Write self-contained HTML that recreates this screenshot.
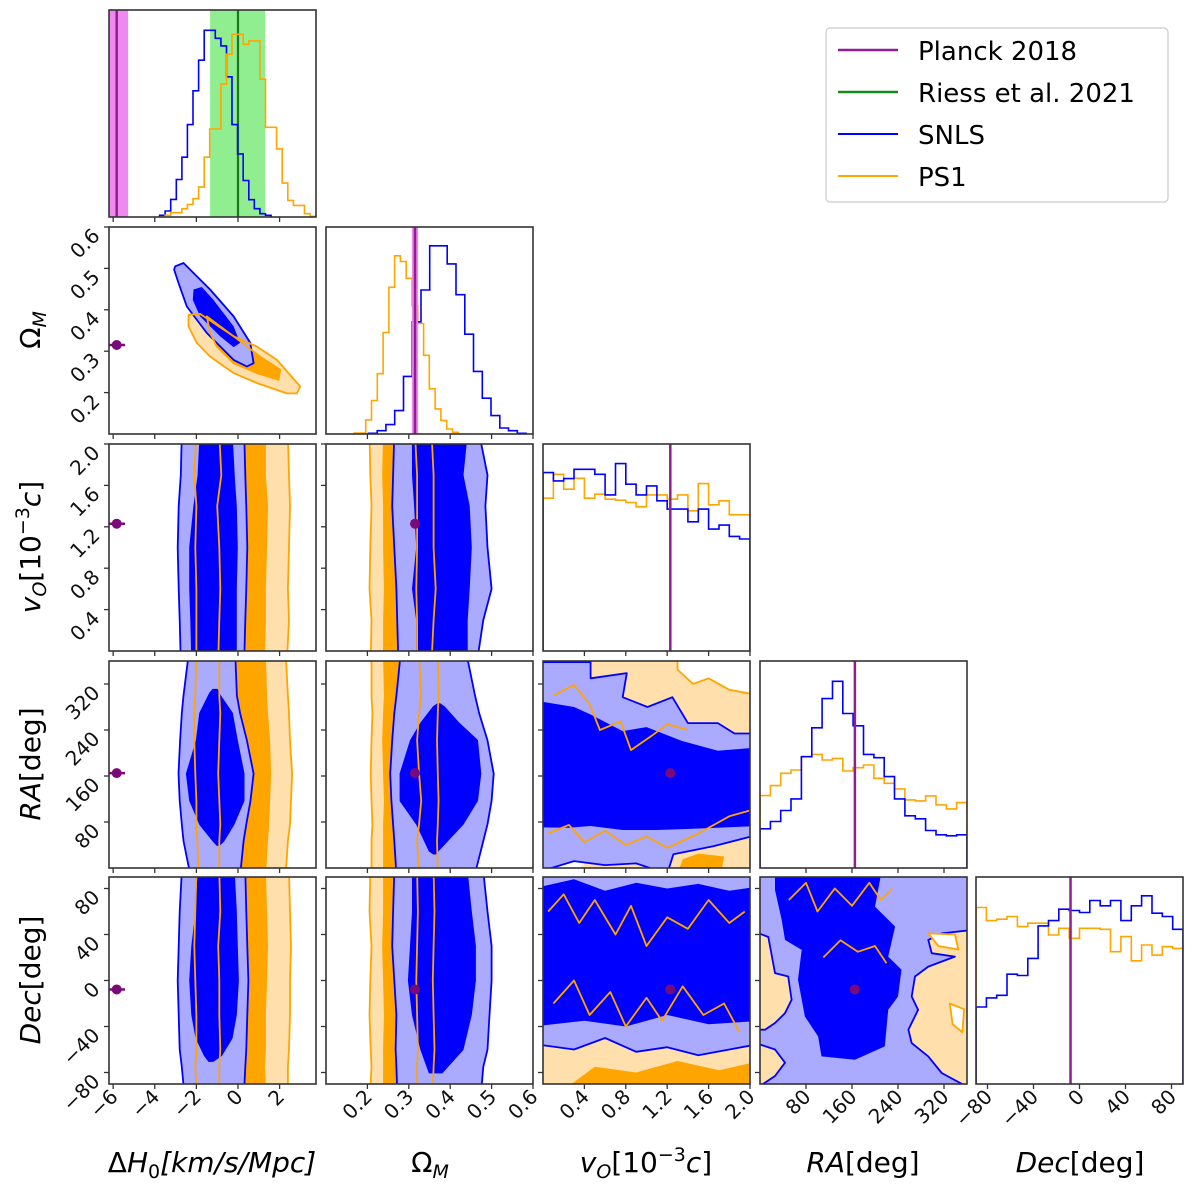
<!DOCTYPE html>
<html><head><meta charset="utf-8"><title>Corner plot</title>
<style>
html,body{margin:0;padding:0;background:#fff;}
svg{display:block;font-family:"DejaVu Sans","Liberation Sans",sans-serif;}
</style></head>
<body>
<svg id="c" width="1200" height="1193" viewBox="0 0 1200 1193" xmlns="http://www.w3.org/2000/svg">
<defs id="defs"></defs>
<g id="legend">
<rect x="826" y="28" width="342" height="174" rx="4" fill="#fff" stroke="#ccc" stroke-width="1.2"/>
<line x1="838" y1="50" x2="898" y2="50" stroke="#8f1f8f" stroke-width="2.5"/>
<text x="918" y="60" font-size="26">Planck 2018</text>
<line x1="838" y1="92" x2="898" y2="92" stroke="#1a8a1a" stroke-width="2.5"/>
<text x="918" y="102" font-size="26">Riess et al. 2021</text>
<line x1="838" y1="134" x2="898" y2="134" stroke="#0000ff" stroke-width="2"/>
<text x="918" y="144" font-size="26">SNLS</text>
<line x1="838" y1="176" x2="898" y2="176" stroke="#ffa500" stroke-width="2"/>
<text x="918" y="186" font-size="26">PS1</text>
</g>
<g font-size="28">
<text x="212" y="1172" text-anchor="middle">Δ<tspan font-style="italic">H</tspan><tspan font-size="19" dy="6">0</tspan><tspan dy="-6" font-style="italic">[km/s/Mpc]</tspan></text>
<text x="430" y="1172" text-anchor="middle">Ω<tspan font-size="19" dy="6" font-style="italic">M</tspan></text>
<text x="646" y="1172" text-anchor="middle"><tspan font-style="italic">v</tspan><tspan font-size="19" dy="6" font-style="italic">O</tspan><tspan dy="-6">[10</tspan><tspan font-size="19" dy="-11">−3</tspan><tspan dy="11" font-style="italic">c</tspan>]</text>
<text x="863" y="1172" text-anchor="middle"><tspan font-style="italic">RA</tspan>[deg]</text>
<text x="1080" y="1172" text-anchor="middle"><tspan font-style="italic">Dec</tspan>[deg]</text>
</g>
<g font-size="28">
<text transform="translate(40,330) rotate(-90)" text-anchor="middle">Ω<tspan font-size="19" dy="6" font-style="italic">M</tspan></text>
<text transform="translate(40,547) rotate(-90)" text-anchor="middle"><tspan font-style="italic">v</tspan><tspan font-size="19" dy="6" font-style="italic">O</tspan><tspan dy="-6">[10</tspan><tspan font-size="19" dy="-11">−3</tspan><tspan dy="11" font-style="italic">c</tspan>]</text>
<text transform="translate(40,764) rotate(-90)" text-anchor="middle"><tspan font-style="italic">RA</tspan>[deg]</text>
<text transform="translate(40,980) rotate(-90)" text-anchor="middle"><tspan font-style="italic">Dec</tspan>[deg]</text>
</g>
</svg>
<script>
// ---------- data ----------
const varRanges = [[-6.2,3.75],[0.1,0.6],[0,2],[0,360],[-90,90]];
const xTicks = [[-6,-4,-2,0,2],[0.2,0.3,0.4,0.5,0.6],[0.4,0.8,1.2,1.6,2.0],[80,160,240,320],[-80,-40,0,40,80]];
const xTickLabels = [["−6","−4","−2","0","2"],["0.2","0.3","0.4","0.5","0.6"],["0.4","0.8","1.2","1.6","2.0"],["80","160","240","320"],["−80","−40","0","40","80"]];
const planck = [-5.83, 0.315, 1.23, 165, -7.8];
const planckErrH0 = 0.4;
const planckBandH0 = [-6.38,-5.28];
const planckBandOm = [0.3075,0.3225];
const riessH0 = 0;
const riessBand = [-1.34,1.3];
// histograms: [start, width, max, counts]
const histH0Blue = [5,18,53,113,180,278,380,472,562,562,538,515,422,278,190,110,52,25,10,5];
const histH0Orange = [0,5,13,13,25,38,55,90,180,265,265,400,490,550,550,520,530,530,415,270,270,205,102,50,35,35,10,2];
const histH0Bins = [-3.77, 0.268, 620];
const histOmBlue = [2,10,28,70,172,335,430,562,562,508,416,298,187,107,55,18,10,2];
const histOmBlueBins = [0.2025, 0.02115, 615];
const histOmOrange = [3,3,42,100,180,303,438,532,515,465,383,330,235,135,75,40,15,5];
const histOmOrangeBins = [0.168, 0.01397, 615];
const histVoBlue = [537,512,519,547,547,532,470,564,502,470,497,452,427,427,389,427,367,379,345,337];
const histVoOrange = [460,532,487,520,460,472,457,454,447,434,470,470,457,470,422,504,440,452,410,410];
const histVoBins = [0, 0.1, 620];
const histRaBlue = [118,140,173,208,335,422,510,562,465,428,342,332,275,208,157,148,113,100,97,100];
const histRaOrange = [218,248,285,295,335,342,325,330,292,302,310,270,255,238,205,202,217,190,178,197];
const histRaBins = [0, 18, 620];
const histDecBlue = [230,257,265,328,324,375,472,488,522,518,512,548,532,548,488,532,562,510,500,462];
const histDecOrange = [527,488,492,500,470,480,480,445,465,435,465,465,462,395,440,368,415,385,410,405];
const histDecBins = [-90, 9, 615];

// 2D ellipse contours (dH0, OmegaM)
const h0OmBlue2X = [-3.02,-2.62,-1.34,-0.21,0.59,0.75,0.43,-0.21,-1.5,-2.46,-2.86,-3.07];
const h0OmBlue2Y = [0.505,0.513,0.449,0.384,0.32,0.271,0.263,0.279,0.344,0.408,0.465,0.497];
const h0OmBlue1X = [-2.14,-1.74,-1.18,-0.21,0.1,-0.21,-0.86,-1.82,-2.17];
const h0OmBlue1Y = [0.449,0.455,0.424,0.36,0.32,0.31,0.336,0.384,0.424];
const h0OmOrange2X = [-2.38,-1.82,-0.21,0.91,1.87,2.99,2.83,2.35,0.91,-0.21,-1.34,-1.98,-2.38];
const h0OmOrange2Y = [0.388,0.39,0.336,0.311,0.279,0.215,0.198,0.198,0.223,0.247,0.287,0.32,0.36];
const h0OmOrange1X = [-1.5,-0.21,1.07,2.03,1.95,0.91,-0.21,-1.02,-1.34];
const h0OmOrange1Y = [0.384,0.336,0.287,0.255,0.231,0.247,0.271,0.311,0.344];

// vertical band contours: rows (y values) with left/right x
const bandVoY = [2.1,1.7,1.4,1.0,0.6,0.3,-0.1];
const bandRaY = [370,300,269,222,164,117,76,47,-10];
const bandRaY1 = [310,304,269,222,164,117,76,47,40];
const bandRaY1b = [285,280,252,222,164,117,76,30,25];
const bandDecY = [95,60,30,0,-30,-60,-75,-95];
const bandDecY1 = [95,60,30,0,-30,-50,-65,-70];
const bandDecY1b = [95,60,30,0,-30,-60,-80];

const h0VoB2L=[-2.7,-2.75,-2.85,-2.9,-2.85,-2.8,-2.75], h0VoB2R=[0.3,0.35,0.4,0.45,0.4,0.35,0.3];
const h0VoB1L=[-1.8,-1.9,-2.1,-2.3,-2.3,-2.25,-2.2], h0VoB1R=[-0.3,-0.2,-0.1,-0.05,-0.1,-0.1,-0.1];
const h0VoO2L=[-2.0,-2.1,-2.0,-2.05,-2.0,-2.0,-2.0], h0VoO2R=[2.4,2.45,2.5,2.45,2.4,2.45,2.35];
const h0VoO1L=[-0.9,-0.8,-1.0,-0.9,-0.85,-0.9,-0.95], h0VoO1R=[1.3,1.3,1.4,1.35,1.3,1.3,1.25];

const h0RaB2L=[-2.38,-2.62,-2.7,-2.78,-2.86,-2.8,-2.7,-2.62,-2.3], h0RaB2R=[-0.13,-0.05,0.1,0.43,0.75,0.6,0.4,0.27,0.11];
const h0RaB1L=[-1.2,-1.34,-1.82,-1.98,-2.46,-2.3,-1.82,-1.18,-1.0], h0RaB1R=[-1.0,-0.94,-0.29,-0.05,0.27,0.27,-0.21,-0.7,-0.9];
const h0RaO2L=[-2.0,-2.05,-2.1,-2.1,-2.05,-2.0,-2.0,-1.95,-1.9], h0RaO2R=[2.3,2.4,2.45,2.5,2.6,2.55,2.5,2.4,2.3];
const h0RaO1L=[-0.9,-0.9,-0.85,-0.9,-0.95,-0.9,-0.85,-0.9,-0.9], h0RaO1R=[1.3,1.35,1.4,1.5,1.55,1.5,1.45,1.4,1.3];

const h0DecB2L=[-2.7,-2.8,-2.85,-2.9,-2.85,-2.8,-2.7,-2.6], h0DecB2R=[0.35,0.4,0.45,0.5,0.45,0.4,0.35,0.3];
const h0DecB1L=[-1.9,-2.0,-2.2,-2.3,-2.2,-2.0,-1.6,-1.4], h0DecB1R=[-0.2,-0.1,-0.05,0,-0.1,-0.3,-0.8,-1.2];
const h0DecO2L=[-2.0,-2.05,-2.1,-2.05,-2.0,-2.0,-2.05,-2.0], h0DecO2R=[2.45,2.5,2.55,2.5,2.5,2.45,2.4,2.4];
const h0DecO1L=[-0.9,-0.85,-0.95,-0.9,-0.9,-0.85,-0.9,-0.9], h0DecO1R=[1.3,1.35,1.4,1.35,1.3,1.3,1.25,1.3];

const omVoB2L=[0.265,0.262,0.26,0.265,0.27,0.272,0.275], omVoB2R=[0.47,0.49,0.485,0.49,0.5,0.48,0.465];
const omVoB1L=[0.31,0.31,0.315,0.32,0.31,0.32,0.32], omVoB1R=[0.44,0.43,0.445,0.45,0.445,0.44,0.44];
const omVoO2L=[0.205,0.207,0.21,0.207,0.205,0.21,0.208], omVoO2R=[0.355,0.36,0.36,0.36,0.365,0.36,0.355];
const omVoO1L=[0.24,0.238,0.24,0.24,0.242,0.24,0.24], omVoO1R=[0.315,0.32,0.32,0.32,0.318,0.32,0.32];

const omRaB2L=[0.28,0.27,0.265,0.26,0.255,0.258,0.262,0.265,0.27], omRaB2R=[0.44,0.46,0.47,0.49,0.505,0.5,0.49,0.48,0.46];
const omRaB1L=[0.37,0.36,0.33,0.305,0.28,0.28,0.32,0.35,0.36], omRaB1R=[0.375,0.385,0.42,0.465,0.473,0.465,0.43,0.37,0.365];
const omRaO2L=[0.21,0.21,0.212,0.21,0.208,0.21,0.212,0.21,0.21], omRaO2R=[0.37,0.372,0.37,0.368,0.37,0.372,0.37,0.368,0.37];
const omRaO1L=[0.24,0.242,0.24,0.238,0.24,0.242,0.24,0.24,0.24], omRaO1R=[0.325,0.33,0.325,0.32,0.325,0.33,0.325,0.32,0.325];

const omDecB2L=[0.265,0.262,0.26,0.265,0.27,0.268,0.27,0.272], omDecB2R=[0.48,0.49,0.5,0.5,0.495,0.49,0.48,0.475];
const omDecB1L=[0.31,0.31,0.305,0.3,0.31,0.33,0.35], omDecB1R=[0.44,0.45,0.46,0.46,0.45,0.43,0.38];
const omDecO2L=[0.207,0.205,0.21,0.207,0.205,0.208,0.21,0.207], omDecO2R=[0.36,0.362,0.36,0.358,0.36,0.362,0.36,0.358];
const omDecO1L=[0.24,0.24,0.238,0.24,0.242,0.24,0.24,0.24], omDecO1R=[0.32,0.322,0.32,0.318,0.32,0.322,0.32,0.32];

// noisy panels: polygons (x values / y values)
const voRaOrangeTopX=[-0.1,2.1,2.1,1.85,1.69,1.40,1.25,1.01,0.77,0.81,0.46,0.46,-0.1];
const voRaOrangeTopY=[370,370,234,234,252,252,297,280,297,339,330,358,358];
const voRaWhiteX=[1.3,2.1,2.1,1.8,1.6,1.45,1.3];
const voRaWhiteY=[370,370,300,310,330,320,345];
const voRaOrangeBotX=[0.9,2.1,2.1,1.65,1.3,1.2,1.0,0.5,0.3];
const voRaOrangeBotY=[-10,-10,59,38,25,20,15,25,-10];
const voRaOrangeDarkX=[1.3,1.72,1.75,1.5,1.35];
const voRaOrangeDarkY=[-10,-10,20,25,15];
const voRaBlue2X=[-0.1,0.46,0.46,0.81,0.77,1.01,1.25,1.40,1.69,1.85,2.1,2.1,1.65,1.26,1.2,0.9,0.6,0.3,-0.1];
const voRaBlue2Y=[358,358,330,339,297,280,297,252,252,234,234,59,38,24,-10,8,5,12,-10];
const voRaBlue1X=[-0.1,0.3,0.46,0.77,1.0,1.34,1.69,2.1,2.1,1.42,1.1,0.77,0.46,0.25,-0.1];
const voRaBlue1Y=[292,280,267,238,245,221,204,210,73,68,66,66,73,70,71];
const voRaLine1X=[0.1,0.3,0.45,0.55,0.75,0.85,1.05,1.2,1.4];
const voRaLine1Y=[300,318,285,240,255,205,230,250,240];
const voRaLine2X=[0.05,0.25,0.4,0.6,0.8,1.0,1.2,1.5,1.8,2.0];
const voRaLine2Y=[60,75,45,65,40,55,35,60,90,100];

const voDecBlue2X=[-0.1,2.1,2.1,1.8,1.5,1.2,0.9,0.6,0.3,-0.1];
const voDecBlue2Y=[95,95,-55,-60,-65,-58,-62,-50,-60,-55];
const voDecBlue1X=[-0.1,0.3,0.6,0.9,1.2,1.5,1.8,2.1,2.1,1.6,1.2,0.8,0.4,-0.1];
const voDecBlue1Y=[80,88,78,85,80,84,78,82,-35,-38,-30,-40,-35,-40];
const voDecOrangeX=[-0.1,2.1,2.1,1.8,1.5,1.2,0.9,0.6,0.3,-0.1];
const voDecOrangeY=[-95,-95,-55,-60,-65,-58,-62,-50,-60,-55];
const voDecOrangeDarkX=[0.2,2.1,2.1,1.7,1.3,0.9,0.5];
const voDecOrangeDarkY=[-95,-95,-70,-78,-70,-80,-75];
const voDecLine1X=[0.05,0.2,0.35,0.5,0.7,0.85,1.0,1.2,1.4,1.6,1.8,1.95];
const voDecLine1Y=[60,75,50,70,40,65,30,55,45,70,50,60];
const voDecLine2X=[0.1,0.3,0.45,0.65,0.8,1.0,1.15,1.35,1.55,1.75,1.9];
const voDecLine2Y=[-20,0,-30,-10,-40,-15,-35,-5,-30,-20,-45];

const raDecBlue1X=[26,211.5,200,235,223,246,240,223,217,165,107,101,78,66,72.5,43.5,37.7,26];
const raDecBlue1Y=[95,95,64.2,46.9,20.8,9.3,-13.9,-25.5,-57.3,-68.9,-66,-48.6,-31.3,0.6,26.6,35.3,52.7,78.7];
const raDecOrangeLX=[-10,14.5,26,49,55,43.5,26,8.7,-10];
const raDecOrangeLY=[42.5,37.8,6.4,3.5,-16.8,-28.4,-37,-42.8,-42.8];
const raDecOrangeBLX=[-10,26,43.5,26,-10];
const raDecOrangeBLY=[-54,-60,-71.5,-83,-95];
const raDecOrangeRX=[370,316,292.7,298.6,339,292.7,269.6,263.8,275,258,263.8,292.7,316,370];
const raDecOrangeRY=[44,41,35.3,23.7,20.8,12.1,3.5,-13.9,-25.5,-42.8,-54.4,-66,-80.4,-95];
const raDecWhite1X=[293,339,345,310];
const raDecWhite1Y=[41,40,27,30];
const raDecWhite2X=[330,355,352,335];
const raDecWhite2Y=[-20,-25,-45,-38];
const raDecLine1X=[50,80,100,130,160,190,210,230];
const raDecLine1Y=[70,85,60,80,65,85,70,80];
const raDecLine2X=[110,140,170,200,220];
const raDecLine2Y=[20,35,25,30,15];

// ---------- drawing ----------
const NS='http://www.w3.org/2000/svg';
const svg=document.getElementById('c');
const defs=document.getElementById('defs');
const colX=[109,326,543,760,976], rowY=[10,227,444,661,877], PW=207, PH=207;
const BLUE='#0000ff', LBLUE='#aaaaff', ORANGE='#ffa500', LORANGE='#ffdfab', PURPLE='#8f1f8f';
function px(v,val){const r=varRanges[v];return colX[v]+(val-r[0])/(r[1]-r[0])*PW;}
function py(v,val){const r=varRanges[v];return rowY[v]+PH-(val-r[0])/(r[1]-r[0])*PH;}
function el(tag,attrs,parent){const e=document.createElementNS(NS,tag);for(const k in attrs)e.setAttribute(k,attrs[k]);(parent||svg).appendChild(e);return e;}

function panelGroup(r,c){
  const cp=el('clipPath',{id:'cp'+r+c},defs);
  el('rect',{x:colX[c],y:rowY[r],width:PW,height:PH},cp);
  const g=el('g',{'clip-path':'url(#cp'+r+c+')'});
  
  
  return g;
}
function polyXY(g,xv,yv,xs,ys,fill,stroke,name){
  const pts=xs.map((x,i)=>px(xv,x).toFixed(1)+','+py(yv,ys[i]).toFixed(1)).join(' ');
  const p=el('polygon',{points:pts,fill:fill,stroke:stroke||'none','stroke-width':1.8,'stroke-linejoin':'round'},g);
  
  
  return p;
}
function lineXY(g,xv,yv,xs,ys,color,name){
  const pts=xs.map((x,i)=>px(xv,x).toFixed(1)+','+py(yv,ys[i]).toFixed(1)).join(' ');
  const p=el('polyline',{points:pts,fill:'none',stroke:color,'stroke-width':1.8,'stroke-linejoin':'round'},g);
  
  
}
function band(g,xv,yv,ys,L,R,fill,stroke,name){
  const xs=L.concat(R.slice().reverse());
  const yy=ys.concat(ys.slice().reverse());
  polyXY(g,xv,yv,xs,yy,fill,stroke,name);
}
function hist(g,v,bins,counts,color,name){
  const base=rowY[v]+PH;
  let d='M'+px(v,bins[0]).toFixed(1)+','+base;
  counts.forEach((c,i)=>{
    const x0=px(v,bins[0]+i*bins[1]), x1=px(v,bins[0]+(i+1)*bins[1]);
    const y=base-c/bins[2]*PH*0.995;
    d+=' L'+x0.toFixed(1)+','+y.toFixed(1)+' L'+x1.toFixed(1)+','+y.toFixed(1);
  });
  d+=' L'+px(v,bins[0]+counts.length*bins[1]).toFixed(1)+','+base;
  const p=el('path',{d:d,fill:'none',stroke:color,'stroke-width':1.6},g);
  
  
}
function vline(g,v,r,val,color,w,name){
  const x=px(v,val);
  const l=el('line',{x1:x,x2:x,y1:rowY[r],y2:rowY[r]+PH,stroke:color,'stroke-width':w},g);
  
  
}
function vbandRect(g,v,r,a,b,color,op,name){
  const rc=el('rect',{x:px(v,a),y:rowY[r],width:px(v,b)-px(v,a),height:PH,fill:color,'fill-opacity':op},g);
  
  
}
function marker(g,xv,yv,xval,yval,errx,name){
  const cx=px(xv,xval), cy=py(yv,yval);
  if(errx){
    const e=el('line',{x1:px(xv,xval-errx),x2:px(xv,xval+errx),y1:cy,y2:cy,stroke:'#7a0a7a','stroke-width':2.5},g);
    
    
  }
  const m=el('circle',{cx:cx,cy:cy,r:5,fill:'#7a0a7a'},g);
  
  
}

// --- histogram panels
const gh0=panelGroup(0,0);
vbandRect(gh0,0,0,planckBandH0[0],planckBandH0[1],'#ee82ee',0.95,'planck-band-h0');
vline(gh0,0,0,planck[0],PURPLE,2.5,'planck-line-h0');
vbandRect(gh0,0,0,riessBand[0],riessBand[1],'#90ee90',1,'riess-band-h0');
vline(gh0,0,0,riessH0,'#1a7a1a',2.2,'riess-line-h0');
hist(gh0,0,histH0Bins,histH0Blue,BLUE,'hist-h0-snls');
hist(gh0,0,histH0Bins,histH0Orange,ORANGE,'hist-h0-ps1');

const gom=panelGroup(1,1);
hist(gom,1,histOmOrangeBins,histOmOrange,ORANGE,'hist-om-ps1');
hist(gom,1,histOmBlueBins,histOmBlue,BLUE,'hist-om-snls');
vbandRect(gom,1,1,planckBandOm[0],planckBandOm[1],'#ee82ee',0.95,'planck-band-om');
vline(gom,1,1,planck[1],PURPLE,2.5,'planck-line-om');

const gvo=panelGroup(2,2);
hist(gvo,2,histVoBins,histVoOrange,ORANGE,'hist-vo-ps1');
hist(gvo,2,histVoBins,histVoBlue,BLUE,'hist-vo-snls');
vline(gvo,2,2,planck[2],PURPLE,2.5,'planck-line-vo');

const gra=panelGroup(3,3);
hist(gra,3,histRaBins,histRaOrange,ORANGE,'hist-ra-ps1');
hist(gra,3,histRaBins,histRaBlue,BLUE,'hist-ra-snls');
vline(gra,3,3,planck[3],PURPLE,2.5,'planck-line-ra');

const gdec=panelGroup(4,4);
hist(gdec,4,histDecBins,histDecOrange,ORANGE,'hist-dec-ps1');
hist(gdec,4,histDecBins,histDecBlue,BLUE,'hist-dec-snls');
vline(gdec,4,4,planck[4],PURPLE,2.5,'planck-line-dec');

// --- H0 vs OmegaM
const g10=panelGroup(1,0);
polyXY(g10,0,1,h0OmOrange2X,h0OmOrange2Y,LORANGE,null,'contour-ps1-2sigma');
polyXY(g10,0,1,h0OmOrange1X,h0OmOrange1Y,ORANGE,null,'contour-ps1-1sigma');
polyXY(g10,0,1,h0OmBlue2X,h0OmBlue2Y,LBLUE,null,'contour-snls-2sigma');
polyXY(g10,0,1,h0OmBlue1X,h0OmBlue1Y,BLUE,null,'contour-snls-1sigma');
polyXY(g10,0,1,h0OmBlue2X,h0OmBlue2Y,'none',BLUE,'contour-snls-2sigma-line');
polyXY(g10,0,1,h0OmOrange2X,h0OmOrange2Y,'none',ORANGE,'contour-ps1-2sigma-line');
polyXY(g10,0,1,h0OmOrange1X,h0OmOrange1Y,'none',ORANGE,'contour-ps1-1sigma-line');
marker(g10,0,1,planck[0],planck[1],planckErrH0,'planck-marker');

// --- band panels
function bandPanel(r,c,ysB2,B2L,B2R,ysB1,B1L,B1R,ysO,O2L,O2R,O1L,O1R){
  const g=panelGroup(r,c);
  band(g,c,r,ysO,O2L,O2R,LORANGE,null,'contour-ps1-2sigma');
  band(g,c,r,ysO,O1L,O1R,ORANGE,null,'contour-ps1-1sigma');
  band(g,c,r,ysB2,B2L,B2R,LBLUE,null,'contour-snls-2sigma');
  band(g,c,r,ysB1,B1L,B1R,BLUE,null,'contour-snls-1sigma');
  band(g,c,r,ysB2,B2L,B2R,'none',BLUE,'contour-snls-2sigma-line');
  band(g,c,r,ysB1,B1L,B1R,'none',BLUE,'contour-snls-1sigma-line');
  band(g,c,r,ysO,O2L,O2R,'none',ORANGE,'contour-ps1-2sigma-line');
  band(g,c,r,ysO,O1L,O1R,'none',ORANGE,'contour-ps1-1sigma-line');
  marker(g,c,r,planck[c],planck[r],c===0?planckErrH0:0,'planck-marker');
}
bandPanel(2,0,bandVoY,h0VoB2L,h0VoB2R,bandVoY,h0VoB1L,h0VoB1R,bandVoY,h0VoO2L,h0VoO2R,h0VoO1L,h0VoO1R);
bandPanel(3,0,bandRaY,h0RaB2L,h0RaB2R,bandRaY1,h0RaB1L,h0RaB1R,bandRaY,h0RaO2L,h0RaO2R,h0RaO1L,h0RaO1R);
bandPanel(4,0,bandDecY,h0DecB2L,h0DecB2R,bandDecY1,h0DecB1L,h0DecB1R,bandDecY,h0DecO2L,h0DecO2R,h0DecO1L,h0DecO1R);
bandPanel(2,1,bandVoY,omVoB2L,omVoB2R,bandVoY,omVoB1L,omVoB1R,bandVoY,omVoO2L,omVoO2R,omVoO1L,omVoO1R);
bandPanel(3,1,bandRaY,omRaB2L,omRaB2R,bandRaY1b,omRaB1L,omRaB1R,bandRaY,omRaO2L,omRaO2R,omRaO1L,omRaO1R);
bandPanel(4,1,bandDecY,omDecB2L,omDecB2R,bandDecY1b,omDecB1L,omDecB1R,bandDecY,omDecO2L,omDecO2R,omDecO1L,omDecO1R);

// --- vO vs RA
const g32=panelGroup(3,2);
polyXY(g32,2,3,voRaOrangeTopX,voRaOrangeTopY,LORANGE,null,'contour-ps1-2sigma-top');
polyXY(g32,2,3,voRaWhiteX,voRaWhiteY,'#fff',ORANGE,'contour-ps1-outside');
polyXY(g32,2,3,voRaOrangeBotX,voRaOrangeBotY,LORANGE,null,'contour-ps1-2sigma-bottom');
polyXY(g32,2,3,voRaOrangeDarkX,voRaOrangeDarkY,ORANGE,null,'contour-ps1-1sigma-bottom');
polyXY(g32,2,3,voRaBlue2X,voRaBlue2Y,LBLUE,BLUE,'contour-snls-2sigma');
polyXY(g32,2,3,voRaBlue1X,voRaBlue1Y,BLUE,null,'contour-snls-1sigma');
lineXY(g32,2,3,voRaLine1X,voRaLine1Y,ORANGE,'contour-ps1-line-a');
lineXY(g32,2,3,voRaLine2X,voRaLine2Y,ORANGE,'contour-ps1-line-b');
marker(g32,2,3,planck[2],planck[3],0,'planck-marker');

// --- vO vs Dec
const g42=panelGroup(4,2);
polyXY(g42,2,4,voDecOrangeX,voDecOrangeY,LORANGE,null,'contour-ps1-2sigma');
polyXY(g42,2,4,voDecOrangeDarkX,voDecOrangeDarkY,ORANGE,null,'contour-ps1-1sigma');
polyXY(g42,2,4,voDecBlue2X,voDecBlue2Y,LBLUE,BLUE,'contour-snls-2sigma');
polyXY(g42,2,4,voDecBlue1X,voDecBlue1Y,BLUE,null,'contour-snls-1sigma');
lineXY(g42,2,4,voDecLine1X,voDecLine1Y,ORANGE,'contour-ps1-line-a');
lineXY(g42,2,4,voDecLine2X,voDecLine2Y,ORANGE,'contour-ps1-line-b');
marker(g42,2,4,planck[2],planck[4],0,'planck-marker');

// --- RA vs Dec
const g43=panelGroup(4,3);
const bgr=el('rect',{x:colX[3],y:rowY[4],width:PW,height:PH,fill:LBLUE},g43);


polyXY(g43,3,4,raDecOrangeLX,raDecOrangeLY,LORANGE,BLUE,'contour-ps1-left');
polyXY(g43,3,4,raDecOrangeBLX,raDecOrangeBLY,LORANGE,BLUE,'contour-ps1-bottom-left');
polyXY(g43,3,4,raDecOrangeRX,raDecOrangeRY,LORANGE,BLUE,'contour-ps1-right');
polyXY(g43,3,4,raDecWhite1X,raDecWhite1Y,'#fff',ORANGE,'contour-empty-a');
polyXY(g43,3,4,raDecWhite2X,raDecWhite2Y,'#fff',ORANGE,'contour-empty-b');
polyXY(g43,3,4,raDecBlue1X,raDecBlue1Y,BLUE,null,'contour-snls-1sigma');
lineXY(g43,3,4,raDecLine1X,raDecLine1Y,ORANGE,'contour-ps1-line-a');
lineXY(g43,3,4,raDecLine2X,raDecLine2Y,ORANGE,'contour-ps1-line-b');
marker(g43,3,4,planck[3],planck[4],0,'planck-marker');

// --- frames, ticks, labels
for(let r=0;r<5;r++){
  for(let c=0;c<=r;c++){
    const f=el('rect',{x:colX[c],y:rowY[r],width:PW,height:PH,fill:'none',stroke:'#333','stroke-width':1.6});
    
    
    xTicks[c].forEach((t,i)=>{
      const x=px(c,t);
      const tk=el('line',{x1:x,x2:x,y1:rowY[r]+PH,y2:rowY[r]+PH+5,stroke:'#333','stroke-width':1.3});
      
      
      if(r===4){
        const tl=el('text',{transform:'translate('+(x+6)+','+(rowY[4]+PH+14)+') rotate(-45)','text-anchor':'end','font-size':20,fill:'#111'});
        tl.textContent=xTickLabels[c][i];
        
        
      }
    });
    if(c<r){
      xTicks[r].forEach((t,i)=>{
        const y=py(r,t);
        const tk=el('line',{x1:colX[c]-5,x2:colX[c],y1:y,y2:y,stroke:'#333','stroke-width':1.3});
        
        
        if(c===0){
          const tl=el('text',{transform:'translate('+(colX[0]-8)+','+(y+10)+') rotate(-45)','text-anchor':'end','font-size':20,fill:'#111'});
          tl.textContent=xTickLabels[r][i];
          
          
        }
      });
    }
  }
}
</script>
</body></html>
